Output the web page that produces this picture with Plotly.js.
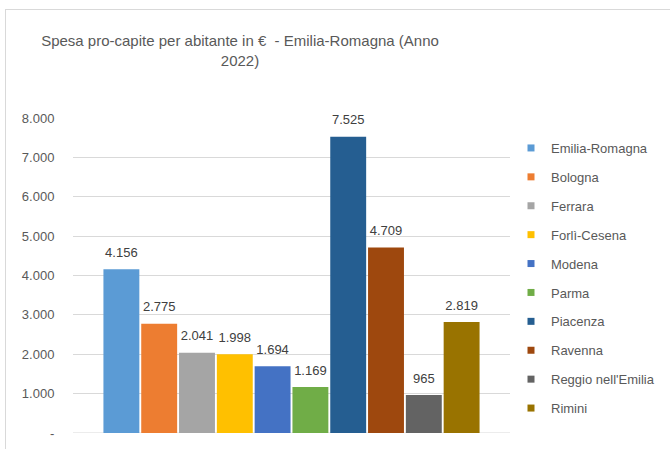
<!DOCTYPE html>
<html><head><meta charset="utf-8">
<script src="https://cdn.plot.ly/plotly-3.0.1.min.js"></script>
<style>
html,body{margin:0;padding:0;background:#fff;width:670px;height:449px;overflow:hidden;}
#frame{position:absolute;left:5px;top:9px;width:700px;height:500px;border:1px solid #d9d9d9;}
#chart{position:absolute;left:0;top:0;width:670px;height:449px;}
</style></head>
<body>
<div id="frame"></div>
<div id="chart"></div>
<script>
const provinces = ["Emilia-Romagna","Bologna","Ferrara","Forlì-Cesena","Modena","Parma","Piacenza","Ravenna","Reggio nell'Emilia","Rimini"];
const spesa = [4156, 2775, 2041, 1998, 1694, 1169, 7525, 4709, 965, 2819];
const colors = ["#5B9BD5","#ED7D31","#A5A5A5","#FFC000","#4472C4","#70AD47","#255E91","#9E480E","#636363","#997300"];
const tickVals = [0,1000,2000,3000,4000,5000,6000,7000,8000];
const tickText = ["-","1.000","2.000","3.000","4.000","5.000","6.000","7.000","8.000"];

const font = "Liberation Sans, Arial, sans-serif";
const traces = [];
traces.push({
  type: "bar", x: provinces, y: spesa,
  marker: {color: colors},
  showlegend: false, hoverinfo: "none"
});
traces.push({
  type: "scatter", mode: "markers+text", x: provinces, y: spesa,
  text: spesa, texttemplate: "%{y:,}", textposition: "top center",
  textfont: {family: font, size: 13, color: "#404040"},
  marker: {size: 13, color: "rgba(0,0,0,0)"},
  cliponaxis: false, showlegend: false, hoverinfo: "none"
});
provinces.forEach((p, i) => {
  traces.push({
    type: "scatter", mode: "markers", x: [null], y: [null], name: p,
    legendgroup: "g" + i,
    marker: {symbol: "square", size: 7, color: colors[i]},
    showlegend: true, hoverinfo: "none"
  });
});

const pad = 0.78;
const layout = {
  width: 670, height: 449,
  margin: {l: 73, r: 160, t: 118, b: 16},
  paper_bgcolor: "rgba(0,0,0,0)", plot_bgcolor: "rgba(0,0,0,0)",
  separators: ",.",
  bargap: 0.05,
  title: {
    text: "Spesa pro-capite per abitante in €  - Emilia-Romagna (Anno<br>2022)",
    font: {family: font, size: 15, color: "#595959"},
    x: 240/670, xanchor: "center", xref: "container",
    y: 1 - 46/449, yanchor: "top", yref: "container"
  },
  xaxis: {type: "category", range: [-0.5 - pad, 9.5 + pad], showticklabels: false, showgrid: false, zeroline: false, showline: false, ticks: "", fixedrange: true},
  yaxis: {
    range: [0, 8000], tickvals: tickVals, ticktext: tickText,
    showgrid: true, gridcolor: "#d9d9d9", gridwidth: 1,
    zeroline: false, showline: false,
    ticks: "outside", ticklen: 15, tickcolor: "rgba(0,0,0,0)",
    tickfont: {family: font, size: 13, color: "#595959"}
  },
  shapes: [{type: "line", xref: "paper", yref: "y", x0: 0, x1: 1, y0: 0, y1: 0, line: {color: "#d9d9d9", width: 1}, layer: "below"}],
  legend: {
    xref: "container", yref: "container",
    x: 511/670, xanchor: "left", y: 1 - 133/449, yanchor: "top",
    maxheight: 600,
    font: {family: font, size: 13, color: "#595959"},
    traceorder: "grouped", tracegroupgap: 9,
    bgcolor: "rgba(0,0,0,0)"
  },
  showlegend: true
};
Plotly.newPlot("chart", traces, layout, {staticPlot: true});
</script>
</body></html>
